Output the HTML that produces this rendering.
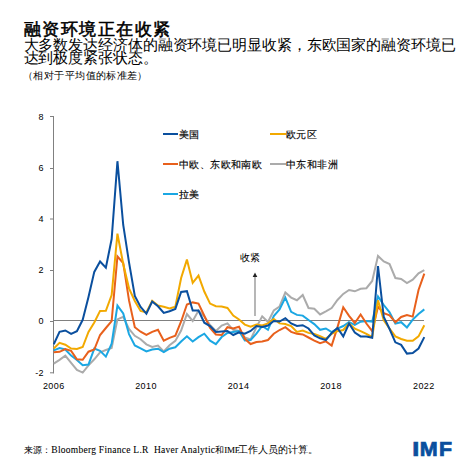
<!DOCTYPE html>
<html><head><meta charset="utf-8">
<style>
html,body{margin:0;padding:0;background:#fff;}
body{width:474px;height:474px;position:relative;overflow:hidden;font-family:"Liberation Sans",sans-serif;}
.t{position:absolute;white-space:nowrap;color:#000;}
#title{left:24px;top:19.5px;font-size:16.5px;font-weight:normal;-webkit-text-stroke:0.55px #000;letter-spacing:1.45px;line-height:18px;}
#sub{left:23.5px;top:37.5px;font-size:15px;letter-spacing:-0.1px;line-height:13.5px;}
#unit{left:22.9px;top:70px;font-size:10px;letter-spacing:0.45px;line-height:12px;}
svg{position:absolute;left:0;top:0;}
.ax{font-family:"Liberation Sans",sans-serif;font-size:9px;fill:#000;letter-spacing:0.4px;}
.lg{font-size:10.4px;fill:#000;font-weight:400;stroke:#000;stroke-width:0.15px;letter-spacing:0.4px;}
</style></head><body>
<div class="t" id="title">融资环境正在收紧</div>
<div class="t" id="sub">大多数发达经济体的融资环境已明显收紧，东欧国家的融资环境已<br>达到极度紧张状态。</div>
<div class="t" id="unit"><span style="position:relative;left:-0.2px">（</span>相对于平均值的标准差<span style="position:relative;left:-0.7px">）</span></div>
<svg width="474" height="474" viewBox="0 0 474 474">
<g stroke="#808080" stroke-width="1" fill="none">
<line x1="53.5" y1="116" x2="53.5" y2="373.3"/>
<line x1="50" y1="116.5" x2="54" y2="116.5"/>
<line x1="50" y1="168.5" x2="54" y2="168.5"/>
<line x1="50" y1="219" x2="54" y2="219"/>
<line x1="50" y1="270.5" x2="54" y2="270.5"/>
<line x1="50" y1="321.5" x2="54" y2="321.5"/>
<line x1="50" y1="372.8" x2="54" y2="372.8"/>
<line x1="54" y1="320.5" x2="424" y2="320.5"/>
</g>
<g class="ax" text-anchor="end">
<text x="44" y="120">8</text>
<text x="44" y="171">6</text>
<text x="44" y="222">4</text>
<text x="44" y="273">2</text>
<text x="44" y="324">0</text>
<text x="44" y="376">-2</text>
</g>
<g class="ax" text-anchor="middle">
<text x="53.75" y="389">2006</text>
<text x="146" y="389">2010</text>
<text x="238.5" y="389">2014</text>
<text x="331" y="389">2018</text>
<text x="423.8" y="389">2022</text>
</g>
<polyline points="53.75,363.7 59.54,359.9 65.33,355.6 71.12,362.8 76.91,370.0 82.70,372.6 88.49,365.3 94.28,359.3 100.07,352.4 105.86,350.0 111.65,348.0 117.44,319.4 123.23,316.8 129.02,328.9 134.81,335.8 140.60,339.2 146.39,344.3 152.18,347.0 157.97,345.6 163.76,351.5 169.55,345.3 175.34,340.9 181.13,330.6 186.92,314.0 192.71,320.9 198.50,310.6 204.29,316.6 210.08,325.0 215.87,331.0 221.66,325.6 227.45,323.4 233.24,329.8 239.03,331.0 244.82,337.5 250.61,339.5 256.40,327.2 262.19,316.4 267.98,322.0 273.77,310.5 279.56,306.5 285.35,292.5 291.14,297.6 296.93,300.2 302.72,295.0 308.51,308.0 314.30,308.7 320.09,314.4 325.88,311.3 331.67,308.0 337.46,300.0 343.25,293.9 349.04,290.0 354.83,291.3 360.62,288.8 366.41,288.2 372.20,281.0 377.99,256.0 383.78,261.5 389.57,264.0 395.36,278.0 401.15,279.0 406.94,283.1 412.73,279.7 418.52,273.3 424.31,270.2" fill="none" stroke="#ababab" stroke-width="2" stroke-linejoin="miter" stroke-miterlimit="3"/>
<polyline points="53.75,350.4 59.54,348.0 65.33,349.5 71.12,355.6 76.91,360.0 82.70,365.3 88.49,364.5 94.28,348.6 100.07,350.9 105.86,356.6 111.65,343.6 117.44,305.6 123.23,313.4 129.02,334.1 134.81,345.4 140.60,348.3 146.39,351.5 152.18,349.5 157.97,348.7 163.76,352.0 169.55,348.7 175.34,347.3 181.13,341.5 186.92,336.3 192.71,341.5 198.50,337.2 204.29,333.7 210.08,340.7 215.87,344.1 221.66,337.0 227.45,332.9 233.24,331.9 239.03,331.0 244.82,340.5 250.61,340.0 256.40,333.7 262.19,326.0 267.98,329.8 273.77,316.0 279.56,309.5 285.35,297.6 291.14,311.8 296.93,314.9 302.72,315.6 308.51,320.0 314.30,324.1 320.09,329.8 325.88,328.5 331.67,332.0 337.46,328.7 343.25,326.0 349.04,322.2 354.83,324.8 360.62,321.7 366.41,321.0 372.20,321.7 377.99,296.5 383.78,305.0 389.57,312.4 395.36,323.5 401.15,322.2 406.94,327.4 412.73,319.6 418.52,314.0 424.31,309.4" fill="none" stroke="#1ba7e3" stroke-width="2" stroke-linejoin="miter" stroke-miterlimit="3"/>
<polyline points="53.75,352.3 59.54,351.8 65.33,349.0 71.12,350.9 76.91,359.3 82.70,359.8 88.49,351.7 94.28,349.5 100.07,335.0 105.86,328.0 111.65,321.1 117.44,256.5 123.23,263.0 129.02,300.4 134.81,327.2 140.60,331.7 146.39,334.9 152.18,331.9 157.97,329.7 163.76,340.6 169.55,337.8 175.34,335.7 181.13,321.5 186.92,304.5 192.71,302.4 198.50,303.6 204.29,315.7 210.08,328.0 215.87,334.5 221.66,335.0 227.45,327.2 233.24,328.5 239.03,326.7 244.82,338.8 250.61,344.0 256.40,342.0 262.19,341.4 267.98,340.0 273.77,333.7 279.56,330.0 285.35,327.2 291.14,331.9 296.93,333.7 302.72,334.4 308.51,337.5 314.30,340.6 320.09,343.2 325.88,341.4 331.67,345.6 337.46,327.4 343.25,307.3 349.04,315.8 354.83,323.0 360.62,314.5 366.41,323.5 372.20,331.2 377.99,306.8 383.78,313.2 389.57,315.4 395.36,322.2 401.15,317.0 406.94,315.0 412.73,316.6 418.52,290.0 424.31,273.6" fill="none" stroke="#e8601c" stroke-width="2" stroke-linejoin="miter" stroke-miterlimit="3"/>
<polyline points="53.75,348.5 59.54,342.8 65.33,344.7 71.12,348.5 76.91,348.9 82.70,347.0 88.49,331.9 94.28,322.5 100.07,310.9 105.86,310.8 111.65,295.0 117.44,233.7 123.23,264.0 129.02,288.3 134.81,301.0 140.60,310.9 146.39,312.4 152.18,300.8 157.97,305.5 163.76,306.7 169.55,308.4 175.34,306.7 181.13,278.0 186.92,259.6 192.71,282.9 198.50,275.6 204.29,291.5 210.08,303.6 215.87,306.2 221.66,306.5 227.45,308.0 233.24,315.6 239.03,319.5 244.82,324.6 250.61,326.7 256.40,324.6 262.19,325.5 267.98,323.4 273.77,319.0 279.56,323.4 285.35,324.1 291.14,326.0 296.93,331.9 302.72,330.5 308.51,332.9 314.30,334.0 320.09,336.2 325.88,338.8 331.67,333.8 337.46,331.2 343.25,330.0 349.04,323.5 354.83,328.7 360.62,331.2 366.41,333.8 372.20,337.2 377.99,300.3 383.78,320.3 389.57,328.7 395.36,336.4 401.15,339.0 406.94,340.8 412.73,340.8 418.52,336.4 424.31,325.3" fill="none" stroke="#f2a900" stroke-width="2" stroke-linejoin="miter" stroke-miterlimit="3"/>
<polyline points="53.75,344.2 59.54,331.9 65.33,330.5 71.12,333.8 76.91,331.2 82.70,319.8 88.49,297.0 94.28,271.9 100.07,261.5 105.86,267.6 111.65,239.0 117.44,161.2 123.23,225.0 129.02,262.4 134.81,296.0 140.60,307.0 146.39,313.6 152.18,301.5 157.97,306.3 163.76,312.9 169.55,311.2 175.34,308.9 181.13,292.0 186.92,291.2 192.71,310.6 198.50,310.6 204.29,322.7 210.08,326.1 215.87,332.0 221.66,331.5 227.45,331.0 233.24,335.0 239.03,332.4 244.82,333.7 250.61,331.0 256.40,326.0 262.19,327.0 267.98,325.5 273.77,321.0 279.56,321.5 285.35,318.2 291.14,323.4 296.93,326.0 302.72,325.2 308.51,328.5 314.30,335.5 320.09,338.3 325.88,340.0 331.67,333.0 337.46,328.0 343.25,336.4 349.04,323.5 354.83,332.5 360.62,336.4 366.41,336.4 372.20,337.7 377.99,266.0 383.78,317.0 389.57,329.0 395.36,342.3 401.15,344.9 406.94,353.6 412.73,353.1 418.52,348.5 424.31,337.1" fill="none" stroke="#0a4f9e" stroke-width="2" stroke-linejoin="miter" stroke-miterlimit="3"/>

<g stroke-width="2">
<line x1="163" y1="134" x2="178" y2="134" stroke="#0a4f9e"/>
<line x1="270" y1="134" x2="286" y2="134" stroke="#f2a900"/>
<line x1="163" y1="164" x2="178" y2="164" stroke="#e8601c"/>
<line x1="270" y1="164" x2="286" y2="164" stroke="#ababab"/>
<line x1="163" y1="194" x2="178" y2="194" stroke="#1ba7e3"/>
</g>
<g class="lg">
<text x="179" y="138">美国</text>
<text x="286" y="138">欧元区</text>
<text x="179" y="168">中欧、东欧和南欧</text>
<text x="286" y="168">中东和非洲</text>
<text x="179" y="198">拉美</text>
</g>
<line x1="255" y1="316" x2="255" y2="276.5" stroke="#909090" stroke-width="1.3"/>
<polygon points="252.7,277 257.3,277 255,272.4" fill="#222"/>
<text class="lg" x="240" y="260.8" style="stroke:none">收紧</text>
<g font-family="Liberation Sans" font-weight="bold" font-size="19.4" fill="#0a4f9e" stroke="#0a4f9e" stroke-width="0.7"><text transform="translate(412.2,455.5) scale(1.3,1)">I</text><text transform="translate(419.8,455.5) scale(1.11,1)">M</text><text transform="translate(438.9,455.5) scale(1.1,1)">F</text></g>
</svg>
<div class="t cj" style="left:24px;top:444px;font-size:9.4px;line-height:12px;">来源：</div>
<div class="t" style="left:51.3px;top:444px;font-family:'Liberation Serif',serif;font-size:9.5px;letter-spacing:0.26px;line-height:12px;-webkit-text-stroke:0.08px #000;">Bloomberg Finance L.R&nbsp; Haver Analytic</div>
<div class="t cj" style="left:215px;top:444px;font-size:9.4px;line-height:12px;">和</div>
<div class="t" style="left:224.3px;top:444px;font-family:'Liberation Serif',serif;font-size:9px;letter-spacing:-0.3px;line-height:12px;-webkit-text-stroke:0.08px #000;">IMF</div>
<div class="t cj" style="left:238.3px;top:444px;font-size:9.8px;line-height:12px;">工作人员的计算。</div>

</body></html>
